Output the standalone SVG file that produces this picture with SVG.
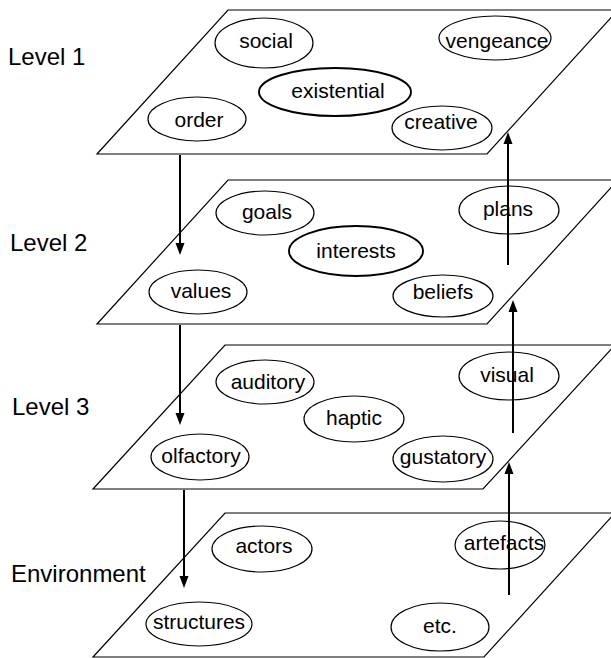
<svg xmlns="http://www.w3.org/2000/svg" width="611" height="658" viewBox="0 0 611 658">
<style>
.plane{fill:#fff;stroke:#000;stroke-width:1.2}
.n{fill:#fff;stroke:#000;stroke-width:1.2}
.nb{fill:#fff;stroke:#000;stroke-width:1.9}
.t{font-family:"Liberation Sans",Arial,sans-serif;font-size:21px;fill:#000;text-anchor:middle}
.lv{font-family:"Liberation Sans",Arial,sans-serif;font-size:24px;fill:#000}
.c{stroke:#000;stroke-width:2;fill:none;marker-end:url(#ah)}
</style>
<defs>
<marker id="ah" markerUnits="userSpaceOnUse" markerWidth="12" markerHeight="10" refX="6" refY="4.5" orient="auto" viewBox="0 0 12 9">
<path d="M0,0 L12,4.5 L0,9 z" fill="#000"/>
</marker>
</defs>
<rect width="611" height="658" fill="#fff"/>
<g id="planes">
<polygon class="plane" points="97,154 228,10 618,10 487,154"/>
<polygon class="plane" points="97,324 228,180 618,180 487,324"/>
<polygon class="plane" points="93,489 225,345 615,345 483,489"/>
<polygon class="plane" points="93,657 225,513 615,513 484,657"/>
</g>
<g id="labels">
<text class="lv" x="8" y="65">Level 1</text>
<text class="lv" x="10" y="251">Level 2</text>
<text class="lv" x="12" y="415">Level 3</text>
<text class="lv" x="11" y="582">Environment</text>
</g>
<g id="social"><ellipse class="n" cx="264" cy="43" rx="49" ry="25"/><text class="t" x="266" y="48">social</text></g>
<g id="vengeance"><ellipse class="n" cx="495" cy="38" rx="56" ry="22"/><text class="t" x="497" y="48">vengeance</text></g>
<g id="existential"><ellipse class="nb" cx="335" cy="92" rx="76" ry="24"/><text class="t" x="338" y="98">existential</text></g>
<g id="order"><ellipse class="n" cx="197" cy="119" rx="49" ry="22"/><text class="t" x="199" y="127">order</text></g>
<g id="creative"><ellipse class="n" cx="442" cy="128" rx="50" ry="22"/><text class="t" x="441" y="129">creative</text></g>

<g id="goals"><ellipse class="n" cx="265" cy="213" rx="49" ry="22"/><text class="t" x="267" y="219">goals</text></g>
<g id="plans"><ellipse class="n" cx="509" cy="210" rx="50" ry="24"/><text class="t" x="508" y="216">plans</text></g>
<g id="interests"><ellipse class="nb" cx="356" cy="251" rx="67" ry="25"/><text class="t" x="356" y="258">interests</text></g>
<g id="values"><ellipse class="n" cx="198" cy="292" rx="49" ry="22"/><text class="t" x="201" y="298">values</text></g>
<g id="beliefs"><ellipse class="n" cx="443" cy="296" rx="50" ry="21"/><text class="t" x="443" y="299">beliefs</text></g>

<g id="auditory"><ellipse class="n" cx="265" cy="382" rx="49" ry="22"/><text class="t" x="268" y="389">auditory</text></g>
<g id="visual"><ellipse class="n" cx="509" cy="376" rx="50" ry="24"/><text class="t" x="507" y="382">visual</text></g>
<g id="haptic"><ellipse class="n" cx="354" cy="419" rx="50" ry="23"/><text class="t" x="354" y="425">haptic</text></g>
<g id="olfactory"><ellipse class="n" cx="200" cy="457" rx="49" ry="23"/><text class="t" x="201" y="463">olfactory</text></g>
<g id="gustatory"><ellipse class="n" cx="443" cy="459" rx="50" ry="23"/><text class="t" x="443" y="464">gustatory</text></g>

<g id="actors"><ellipse class="n" cx="262" cy="549" rx="50" ry="23"/><text class="t" x="264" y="553">actors</text></g>
<g id="artefacts"><ellipse class="n" cx="500" cy="545" rx="45" ry="24"/><text class="t" x="504" y="550">artefacts</text></g>
<g id="structures"><ellipse class="n" cx="199" cy="624" rx="53" ry="22"/><text class="t" x="199" y="629">structures</text></g>
<g id="etc"><ellipse class="n" cx="440" cy="627" rx="49" ry="24"/><text class="t" x="440" y="633">etc.</text></g>

<g id="connectors">
<line class="c" x1="180" y1="155" x2="180" y2="249"/>
<line class="c" x1="180" y1="325" x2="180" y2="419"/>
<line class="c" x1="184" y1="490" x2="184" y2="582"/>
<line class="c" x1="508" y1="265" x2="508" y2="138"/>
<line class="c" x1="513" y1="433" x2="513" y2="306"/>
<line class="c" x1="509" y1="595" x2="509" y2="468"/>
</g>
</svg>
